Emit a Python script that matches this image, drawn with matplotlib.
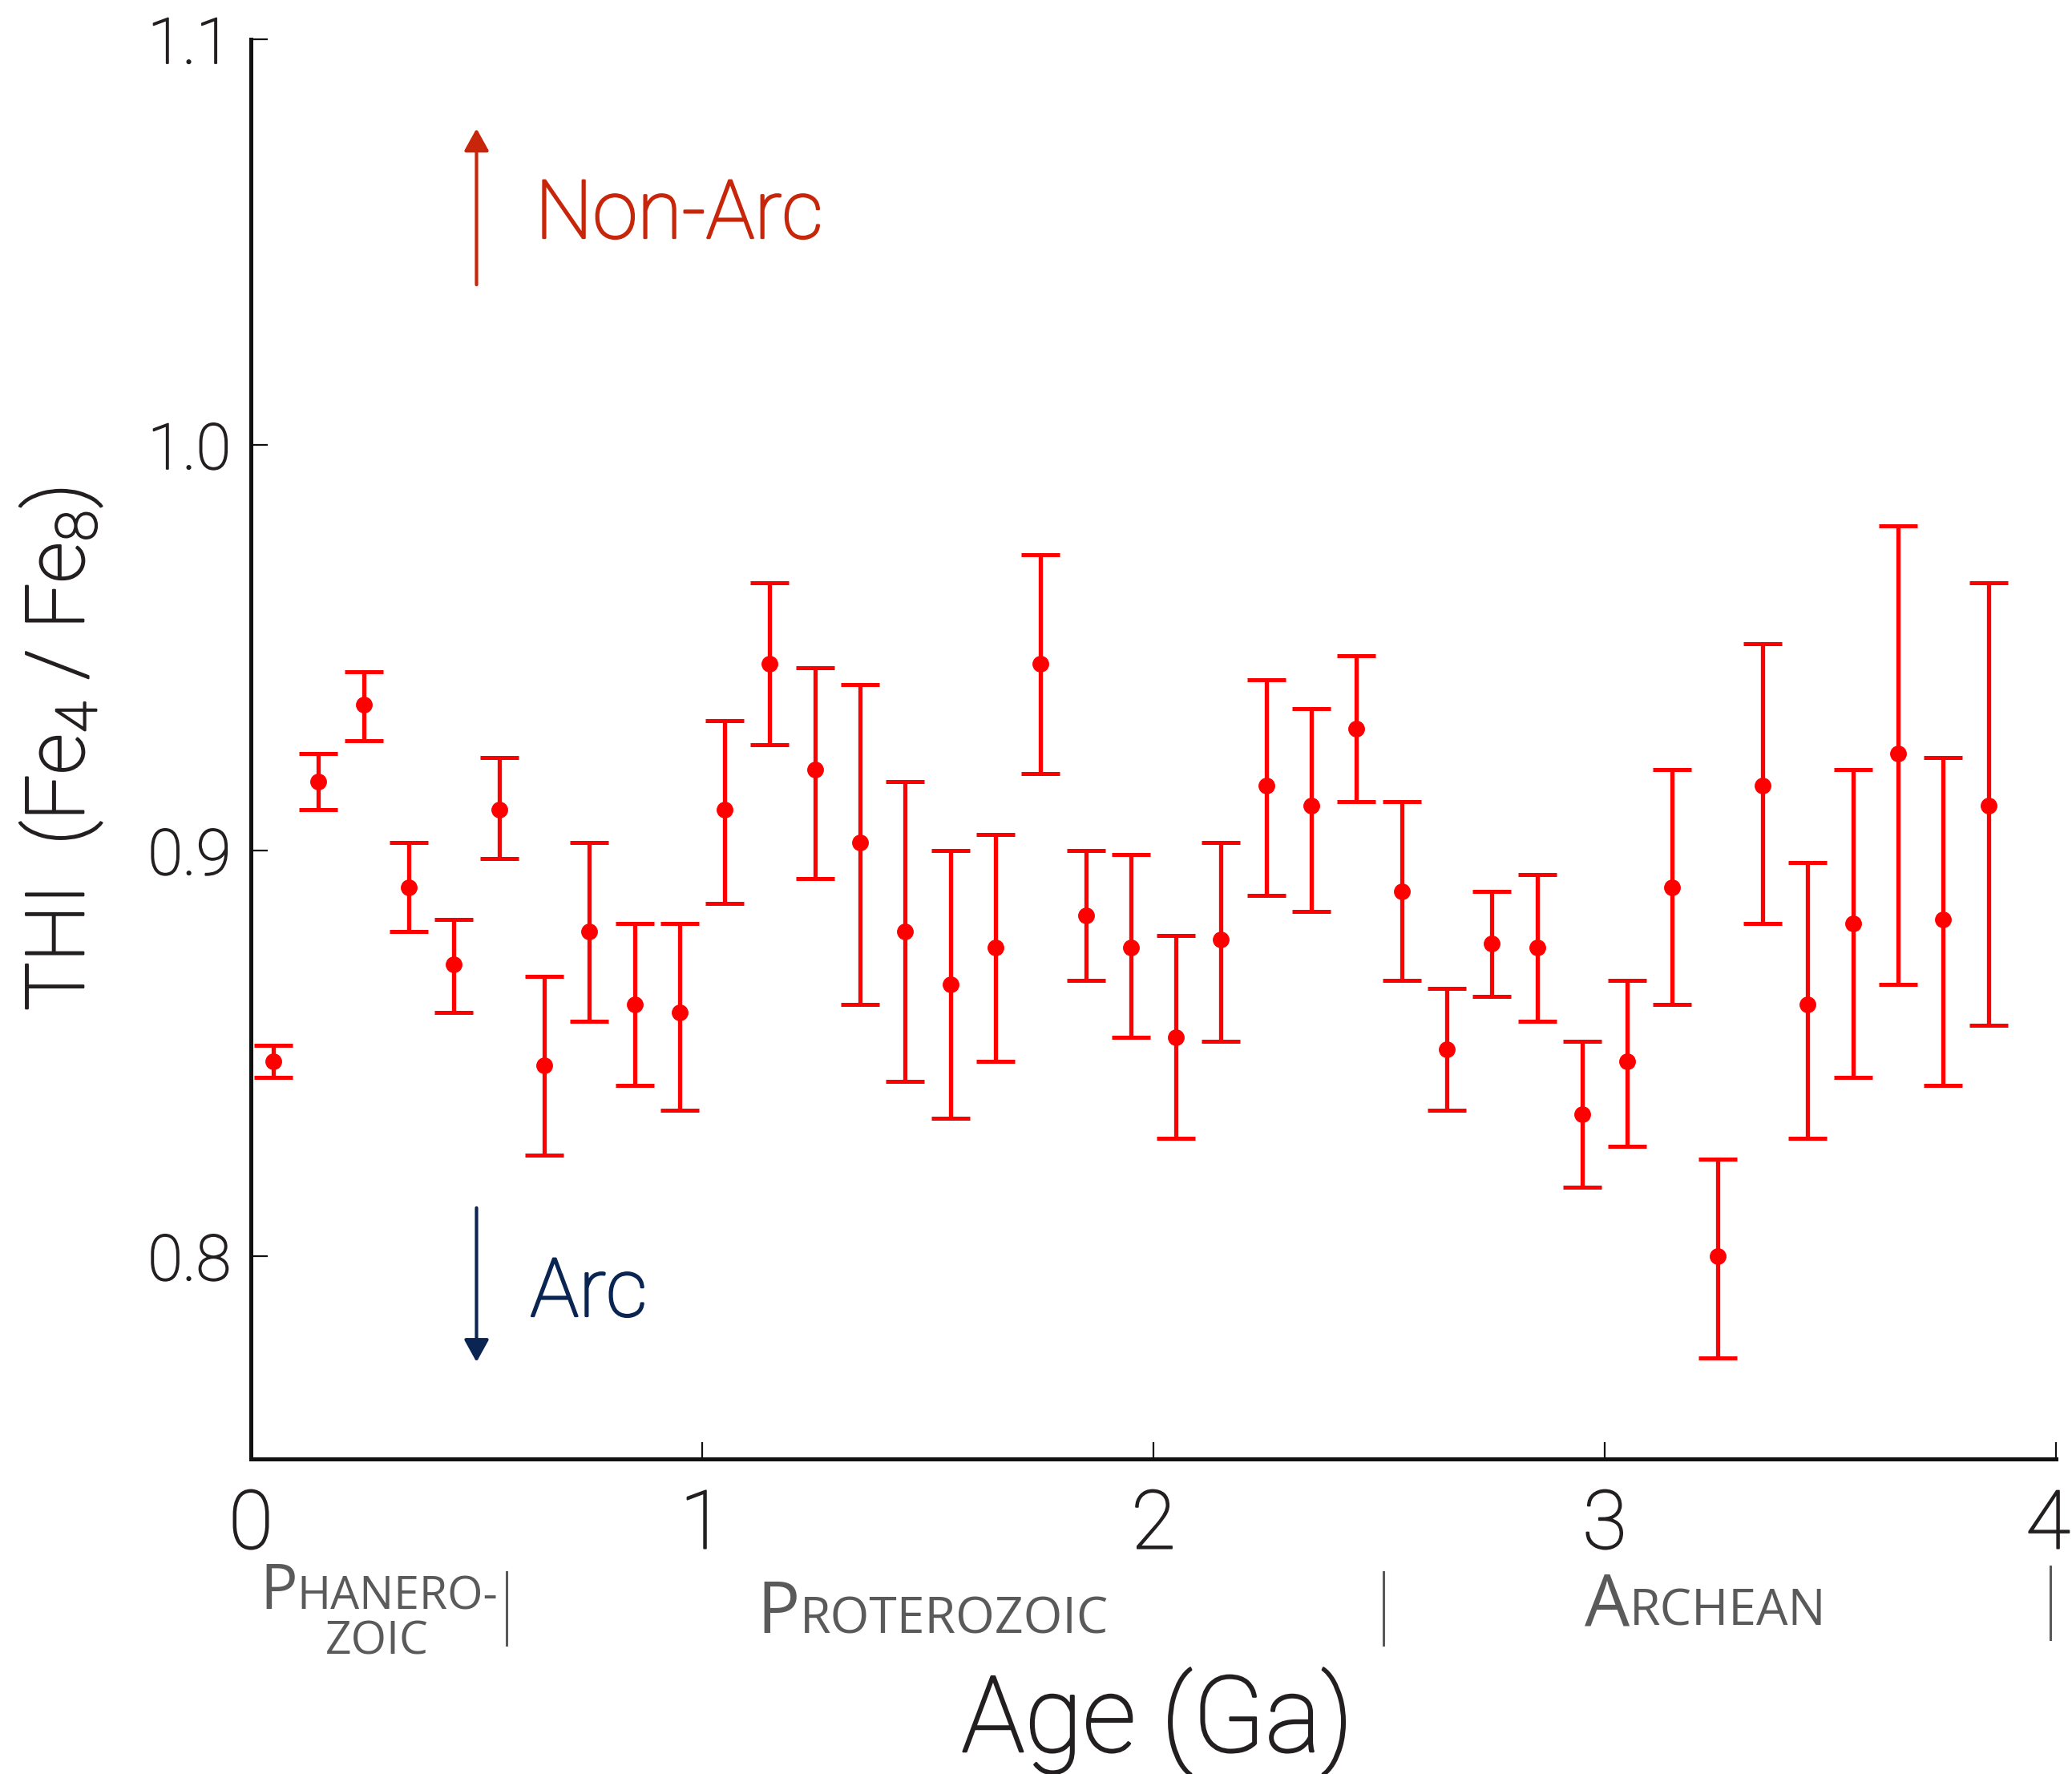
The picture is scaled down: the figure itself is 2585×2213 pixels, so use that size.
import matplotlib
matplotlib.use("Agg")
import matplotlib.pyplot as plt
import matplotlib.patheffects as pe
from matplotlib.transforms import ScaledTranslation
import numpy as np

# Binned THI values (Fe4/Fe8) against age, with lower / upper uncertainty bounds
ages = [0.05, 0.15, 0.25, 0.35, 0.45, 0.55, 0.65, 0.75, 0.85, 0.95,
        1.05, 1.15, 1.25, 1.35, 1.45, 1.55, 1.65, 1.75, 1.85, 1.95,
        2.05, 2.15, 2.25, 2.35, 2.45, 2.55, 2.65, 2.75, 2.85, 2.95,
        3.05, 3.15, 3.25, 3.35, 3.45, 3.55, 3.65, 3.75, 3.85]
thi = [0.848, 0.917, 0.936, 0.891, 0.872, 0.910, 0.847, 0.880, 0.862, 0.860,
       0.910, 0.946, 0.920, 0.902, 0.880, 0.867, 0.876, 0.946, 0.884, 0.876,
       0.854, 0.878, 0.916, 0.911, 0.930, 0.890, 0.851, 0.877, 0.876, 0.835,
       0.848, 0.891, 0.800, 0.916, 0.862, 0.882, 0.924, 0.883, 0.911]
thi_low = [0.844, 0.910, 0.927, 0.880, 0.860, 0.898, 0.825, 0.858, 0.842, 0.836,
           0.887, 0.926, 0.893, 0.862, 0.843, 0.834, 0.848, 0.919, 0.868, 0.854,
           0.829, 0.853, 0.889, 0.885, 0.912, 0.868, 0.836, 0.864, 0.858, 0.817,
           0.827, 0.862, 0.775, 0.882, 0.829, 0.844, 0.867, 0.842, 0.857]
thi_high = [0.852, 0.924, 0.944, 0.902, 0.883, 0.923, 0.869, 0.902, 0.882, 0.882,
            0.932, 0.966, 0.945, 0.941, 0.917, 0.900, 0.904, 0.973, 0.900, 0.899,
            0.879, 0.902, 0.942, 0.935, 0.948, 0.912, 0.866, 0.890, 0.894, 0.853,
            0.868, 0.920, 0.824, 0.951, 0.897, 0.920, 0.980, 0.923, 0.966]

x_ticks = [0, 1, 2, 3, 4]
y_ticks = [0.8, 0.9, 1.0, 1.1]
y_tick_labels = ["0.8", "0.9", "1.0", "1.1"]

plt.rcParams["font.family"] = ["Roboto", "DejaVu Sans"]
plt.rcParams["font.weight"] = "light"
plt.rcParams["mathtext.fontset"] = "custom"
plt.rcParams["mathtext.rm"] = "Roboto:light"
plt.rcParams["mathtext.default"] = "rm"

ink = "#231f20"


def thicken(color, lw=1.4):
    # light face with a hairline outline, for a book-weight look
    return [pe.Stroke(linewidth=lw, foreground=color), pe.Normal()]


W, H = 2585, 2213
fig = plt.figure(figsize=(W / 100, H / 100), dpi=100)
ax = fig.add_axes([313 / W, 1 - 1820 / H, (2565 - 313) / W, (1820 - 49) / H])

y = np.array(thi)
yerr = np.vstack([y - np.array(thi_low), np.array(thi_high) - y])
ax.errorbar(ages, y, yerr=yerr, fmt="o", color="#ff0000", ms=14,
            elinewidth=3.8, capsize=17, capthick=3.6, zorder=3)

ax.set_xlim(0, 4)
ax.set_ylim(0.75, 1.1)
ax.set_xticks(x_ticks)
ax.set_yticks(y_ticks)
ax.set_yticklabels(y_tick_labels)
for s in ("top", "right"):
    ax.spines[s].set_visible(False)
for s in ("left", "bottom"):
    ax.spines[s].set_linewidth(3.6)
    ax.spines[s].set_color("#111111")
ax.tick_params(axis="both", direction="in", length=15, width=1.6, colors="#111111")
ax.tick_params(axis="y", labelsize=57, pad=18, labelcolor=ink)
ax.tick_params(axis="x", labelsize=73, pad=26, labelcolor=ink)

fig.canvas.draw()
for lab in ax.get_xticklabels() + ax.get_yticklabels():
    lab.set_path_effects(thicken(ink, 1.3))
# keep the last age label inside the canvas
last = ax.get_xticklabels()[-1]
last.set_transform(last.get_transform() + ScaledTranslation(-0.1, 0, fig.dpi_scale_trans))

# direction arrows and labels
red = "#c8260a"
navy = "#0b2552"
ax.annotate("", xy=(0.5, 1.078), xytext=(0.5, 1.0395),
            arrowprops=dict(arrowstyle="-|>,head_length=0.85,head_width=0.47",
                            color=red, lw=3, shrinkA=0, shrinkB=0,
                            mutation_scale=20))
ax.annotate("", xy=(0.5, 0.7739), xytext=(0.5, 0.8119),
            arrowprops=dict(arrowstyle="-|>,head_length=0.85,head_width=0.47",
                            color=navy, lw=3, shrinkA=0, shrinkB=0,
                            mutation_scale=20))
ax.text(0.630, 1.051, "Non-Arc", color=red, fontsize=73, va="baseline", ha="left",
        path_effects=thicken(red, 1.8))
ax.text(0.619, 0.7852, "Arc", color=navy, fontsize=73, va="baseline", ha="left",
        path_effects=thicken(navy, 1.8))

# axis titles
fig.text(77 / W, 1 - 935 / H, "THI  (Fe$_4$ / Fe$_8$)", rotation=90,
         ha="center", va="center", fontsize=73, color=ink,
         path_effects=thicken(ink, 1.6))
fig.text(1444 / W, 1 - 2185 / H, "Age (Ga)", ha="center", va="baseline",
         fontsize=95, color=ink, path_effects=thicken(ink, 1.8))

# geologic eon labels in small caps
gray = "#5a5a5a"
era_font = ["Open Sans", "DejaVu Sans"]
renderer = fig.canvas.get_renderer()


def small_caps(x_px, base_px, big, rest, big_size, small_size):
    t = fig.text(x_px / W, 1 - base_px / H, big, fontsize=big_size,
                 family=era_font, weight="normal", color=gray,
                 va="baseline", ha="left")
    bb = t.get_window_extent(renderer)
    fig.text(bb.x1 / W, 1 - base_px / H, rest, fontsize=small_size,
             family=era_font, weight="normal", color=gray,
             va="baseline", ha="left")


small_caps(324, 2007, "P", "HANERO-", 56, 41)
fig.text(470 / W, 1 - 2063 / H, "ZOIC", fontsize=41, family=era_font,
         weight="normal", color=gray, va="baseline", ha="center")
small_caps(944, 2037, "P", "ROTEROZOIC", 64, 45)
small_caps(1977, 2028, "A", "RCHEAN", 64, 45)

for xb, y0, y1 in [(632, 1961, 2052), (1726, 1961, 2052), (2558, 1954, 2045)]:
    fig.add_artist(plt.Line2D([xb / W, xb / W], [1 - y0 / H, 1 - y1 / H],
                              transform=fig.transFigure, color=gray, lw=2.2))

fig.savefig("out.png", dpi=100, facecolor="white")
